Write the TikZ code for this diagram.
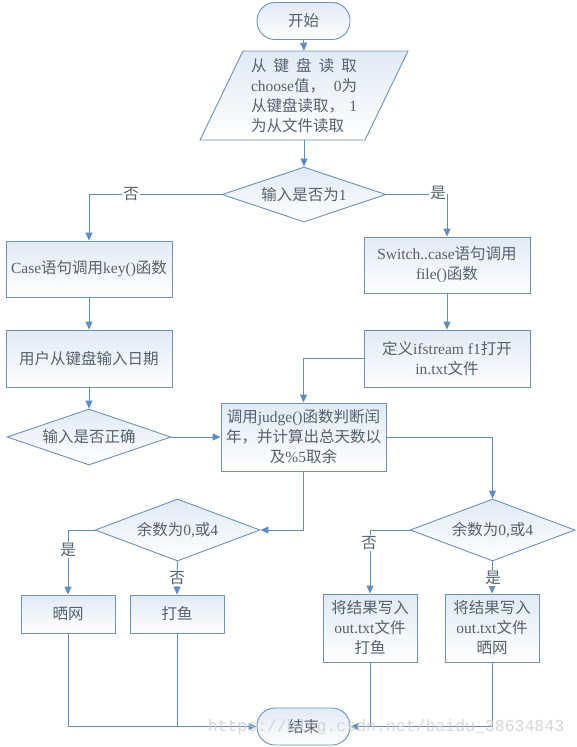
\documentclass[tikz,border=0pt]{standalone}
\usepackage{fontspec}
\setmainfont{Liberation Serif}
\newfontfamily\cjk{Noto Sans CJK SC}
\newfontfamily\wmfont{Liberation Mono}
\usetikzlibrary{shapes.geometric,arrows.meta}
\newcommand\zh[1]{{\cjk #1}}
\definecolor{linec}{RGB}{96,141,190}
\definecolor{borderc}{RGB}{112,146,180}
\definecolor{txtc}{RGB}{84,98,112}
\definecolor{fillc}{RGB}{224,234,246}
\definecolor{wmc}{RGB}{205,205,205}
\begin{document}
\begin{tikzpicture}[x=1pt,y=-1pt,
  every node/.style={text=txtc, font=\fontsize{15.5}{20}\selectfont},
  boxstyle/.style={draw=borderc, line width=0.9pt, top color=fillc, bottom color=white, inner sep=2pt, align=center},
  rbox/.style={boxstyle, rectangle},
  dbox/.style={boxstyle, diamond, aspect=3, inner sep=0pt},
  tbox/.style={boxstyle, rectangle, rounded corners=18pt},
  conn/.style={draw=linec, line width=0.9pt},
  arr/.style={conn, -{Triangle[length=8pt,width=7pt,fill=linec]}},
  lbl/.style={fill=white, inner sep=1pt}
]
\fill[white] (0,0) rectangle (577,747);
\useasboundingbox (0,0) rectangle (577,747);

% parallelogram
\draw[draw=borderc, line width=0.9pt, top color=fillc, bottom color=white]
  (243,51) -- (408,51) -- (365,140) -- (200,140) -- cycle;

\node[tbox, minimum width=93, minimum height=37] (start) at (303.5,21) {\zh{开始}};
\node[inner sep=0pt, minimum height=89, minimum width=110, align=left] (para) at (304,95.5)
 {\hbox to 106pt{\zh{从}\hfil\zh{键}\hfil\zh{盘}\hfil\zh{读}\hfil\zh{取}}\\
  \hbox to 106pt{choose\zh{值，}\hfil 0\zh{为}}\\
  \hbox to 106pt{\zh{从键盘读取，}\hfil 1}\\
  \hbox to 106pt{\zh{为从文件读取}\hfil}};

\node[dbox, minimum width=164, minimum height=55] (d1) at (304,194.5) {\zh{输入是否为}1};
\node[rbox, minimum width=166, minimum height=56] (case) at (89,269) {Case\zh{语句调用}key()\zh{函数}};
\node[rbox, minimum width=166, minimum height=57] (kb) at (89,358.5) {\zh{用户从键盘输入日期}};
\node[dbox, minimum width=164, minimum height=56] (d2) at (89,437) {\zh{输入是否正确}};
\node[rbox, minimum width=166, minimum height=56] (sw) at (447,265) {Switch..case\zh{语句调用}\\file()\zh{函数}};
\node[rbox, minimum width=166, minimum height=57] (fs) at (447,358.5) {\zh{定义}ifstream f1\zh{打开}\\in.txt\zh{文件}};
\node[rbox, minimum width=165, minimum height=68, inner sep=1pt] (judge) at (303.5,437)
 {\zh{调用}judge()\zh{函数判断闰}\\\zh{年，并计算出总天数以}\\\zh{及}\%5\zh{取余}};
\node[dbox, minimum width=165, minimum height=62] (dL) at (177.5,530) {\zh{余数为}0,\zh{或}4};
\node[dbox, minimum width=165, minimum height=62] (dR) at (492.5,530) {\zh{余数为}0,\zh{或}4};
\node[rbox, minimum width=94, minimum height=38] (sai1) at (68,614) {\zh{晒网}};
\node[rbox, minimum width=94, minimum height=38] (dy1) at (177,614) {\zh{打鱼}};
\node[rbox, minimum width=94, minimum height=68] (r1) at (370,628) {\zh{将结果写入}\\out.txt\zh{文件}\\\zh{打鱼}};
\node[rbox, minimum width=94, minimum height=68] (r2) at (492,628) {\zh{将结果写入}\\out.txt\zh{文件}\\\zh{晒网}};
\node[tbox, minimum width=93, minimum height=37] (end) at (303.5,726.5) {\zh{结束}};

% connectors
\draw[arr] (start.south) -- (para.north);
\draw[arr] (para.south) -- (d1.north);
\draw[arr] (d1.west) -| (case.north);
\draw[arr] (d1.east) -| (sw.north);
\draw[arr] (case.south) -- (kb.north);
\draw[arr] (kb.south) -- (d2.north);
\draw[arr] (d2.east) -- (judge.west);
\draw[arr] (sw.south) -- (fs.north);
\draw[arr] (fs.west) -| (judge.north);
\draw[arr] (judge.east) -| (dR.north);
\draw[arr] (judge.south) |- (dL.east);
\draw[arr] (dL.west) -| (sai1.north);
\draw[arr] (dL.south) -- (dy1.north);
\draw[arr] (dR.west) -| (r1.north);
\draw[arr] (dR.south) -- (r2.north);
\draw[arr] (sai1.south) |- (end.west);
\draw[conn] (dy1.south) -- (dy1.south |- end.west);
\draw[arr] (r2.south) |- (end.east);
\draw[conn] (r1.south) -- (r1.south |- end.east);

% labels
\node[lbl] (l1) at (131,194) {\zh{否}};
\node[lbl] (l2) at (438,193) {\zh{是}};
\node[lbl] (l3) at (68,550) {\zh{是}};
\node[lbl] (l4) at (177,578) {\zh{否}};
\node[lbl] (l5) at (369,543) {\zh{否}};
\node[lbl] (l6) at (493,578) {\zh{是}};

% watermark
\node[text=wmc, opacity=0.8, font=\fontsize{16.5}{18}\selectfont\wmfont, inner sep=0pt] (wm) at (386,727) {https://blog.csdn.net/baidu\_38634843};
\end{tikzpicture}
\end{document}
